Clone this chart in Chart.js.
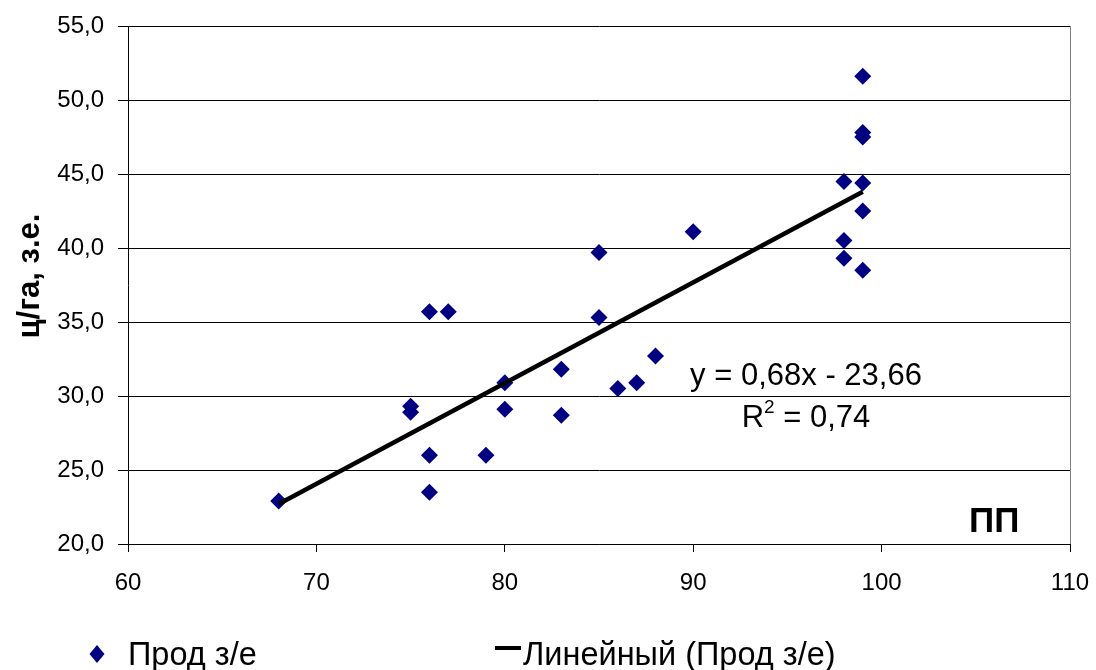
<!DOCTYPE html>
<html>
<head>
<meta charset="utf-8">
<script src="https://cdn.jsdelivr.net/npm/chart.js@4.4.1/dist/chart.umd.min.js"></script>
<style>
  html, body { margin: 0; padding: 0; background: #fff; }
  #wrap { width: 1096px; height: 670px; }
</style>
</head>
<body>
<div id="wrap"><canvas id="c" width="1096" height="670"></canvas></div>
<script>
// ---- data ----
const xValues = [68, 75, 75, 76, 76, 76, 77, 79, 80, 80, 83, 83, 85, 85, 86, 87, 88, 90, 98, 98, 98, 99, 99, 99, 99, 99, 99];
const yValues = [22.9, 29.3, 28.9, 35.7, 26.0, 23.5, 35.7, 26.0, 30.9, 29.1, 31.8, 28.7, 39.7, 35.3, 30.5, 30.9, 32.7, 41.1, 44.5, 40.5, 39.3, 51.6, 47.8, 47.5, 44.4, 42.5, 38.5];
const trendX = [68, 99];
const trendY = [22.7, 43.8];
const seriesName = 'Прод з/е';
const trendName = 'Линейный (Прод з/е)';
const yTitle = 'ц/га, з.е.';
const xTitle = 'ПП';
const equationText = 'y = 0,68x - 23,66';
const r2Value = '0,74';
const xMin = 60, xMax = 110, xStep = 10;
const yMin = 20, yMax = 55, yStep = 5;

const FONT = '"Liberation Sans", Arial, sans-serif';
const pts = xValues.map((x, i) => ({ x: x, y: yValues[i] }));
const trend = trendX.map((x, i) => ({ x: x, y: trendY[i] }));

const decorPlugin = {
  id: 'decor',
  afterDraw(chart) {
    const ctx = chart.ctx;
    const a = chart.chartArea;
    ctx.save();
    // right border of plot area
    ctx.strokeStyle = '#808080';
    ctx.lineWidth = 1;
    ctx.beginPath();
    ctx.moveTo(Math.round(a.right) + 0.5, a.top);
    ctx.lineTo(Math.round(a.right) + 0.5, a.bottom);
    ctx.stroke();

    ctx.fillStyle = '#000';
    // y axis title
    ctx.save();
    ctx.translate(30, 276);
    ctx.rotate(-Math.PI / 2);
    ctx.font = 'bold 31px ' + FONT;
    ctx.textAlign = 'center';
    ctx.textBaseline = 'middle';
    ctx.fillText(yTitle, 0, 0);
    ctx.restore();

    // x axis title inside plot
    ctx.font = 'bold 35px ' + FONT;
    ctx.textAlign = 'left';
    ctx.textBaseline = 'alphabetic';
    ctx.fillText(xTitle, 969, 532);

    // equation
    const cx = 806;
    ctx.font = '31px ' + FONT;
    ctx.textAlign = 'center';
    ctx.fillText(equationText, cx, 385);
    // R^2 line
    const p1 = 'R', p3 = ' = ' + r2Value;
    ctx.font = '31px ' + FONT;
    const w1 = ctx.measureText(p1).width, w3 = ctx.measureText(p3).width;
    ctx.font = '19px ' + FONT;
    const w2 = ctx.measureText('2').width;
    let sx = cx - (w1 + w2 + w3) / 2;
    ctx.textAlign = 'left';
    ctx.font = '31px ' + FONT;
    ctx.fillText(p1, sx, 427);
    ctx.font = '19px ' + FONT;
    ctx.fillText('2', sx + w1, 413);
    ctx.font = '31px ' + FONT;
    ctx.fillText(p3, sx + w1 + w2, 427);

    // legend
    ctx.fillStyle = '#000080';
    ctx.beginPath();
    ctx.moveTo(97, 645);
    ctx.lineTo(104.5, 654);
    ctx.lineTo(97, 663);
    ctx.lineTo(89.5, 654);
    ctx.closePath();
    ctx.fill();
    ctx.fillStyle = '#000';
    ctx.font = '32.5px ' + FONT;
    ctx.textAlign = 'left';
    ctx.textBaseline = 'alphabetic';
    ctx.fillText(seriesName, 128, 665);
    ctx.strokeStyle = '#000';
    ctx.lineWidth = 4;
    ctx.beginPath();
    ctx.moveTo(495, 648);
    ctx.lineTo(521, 648);
    ctx.stroke();
    ctx.fillText(trendName, 523, 665);
    ctx.restore();
  }
};

new Chart(document.getElementById('c'), {
  type: 'scatter',
  data: {
    datasets: [
      {
        label: seriesName,
        data: pts,
        order: 1,
        pointStyle: 'rectRot',
        pointRadius: 8.5,
        pointHoverRadius: 8.5,
        backgroundColor: '#000080',
        borderColor: '#000080',
        borderWidth: 0
      },
      {
        type: 'line',
        label: trendName,
        data: trend,
        order: 0,
        borderColor: '#000',
        borderWidth: 4.5,
        pointRadius: 0,
        fill: false,
        tension: 0
      }
    ]
  },
  options: {
    responsive: false,
    animation: false,
    events: [],
    layout: { padding: { left: 0, top: 26, right: 26, bottom: 0 } },
    plugins: { legend: { display: false }, tooltip: { enabled: false } },
    scales: {
      x: {
        type: 'linear',
        min: xMin, max: xMax,
        afterFit(s) { s.height = 126; s.paddingLeft = 0; s.paddingRight = 0; },
        ticks: {
          stepSize: xStep,
          color: '#000',
          font: { family: FONT, size: 24 },
          padding: 17,
          maxRotation: 0
        },
        grid: { drawOnChartArea: false, drawTicks: true, tickLength: 8, color: '#000' },
        border: { display: true, color: '#000', width: 1 }
      },
      y: {
        type: 'linear',
        min: yMin, max: yMax,
        afterFit(s) { s.width = 128; s.paddingTop = 0; s.paddingBottom = 0; },
        ticks: {
          stepSize: yStep,
          color: '#000',
          font: { family: FONT, size: 24 },
          padding: 14,
          callback: v => v.toFixed(1).replace('.', ',')
        },
        grid: { drawOnChartArea: true, drawTicks: true, tickLength: 10, color: '#000', lineWidth: 1 },
        border: { display: true, color: '#000', width: 1 }
      }
    }
  },
  plugins: [decorPlugin]
});
</script>
</body>
</html>
